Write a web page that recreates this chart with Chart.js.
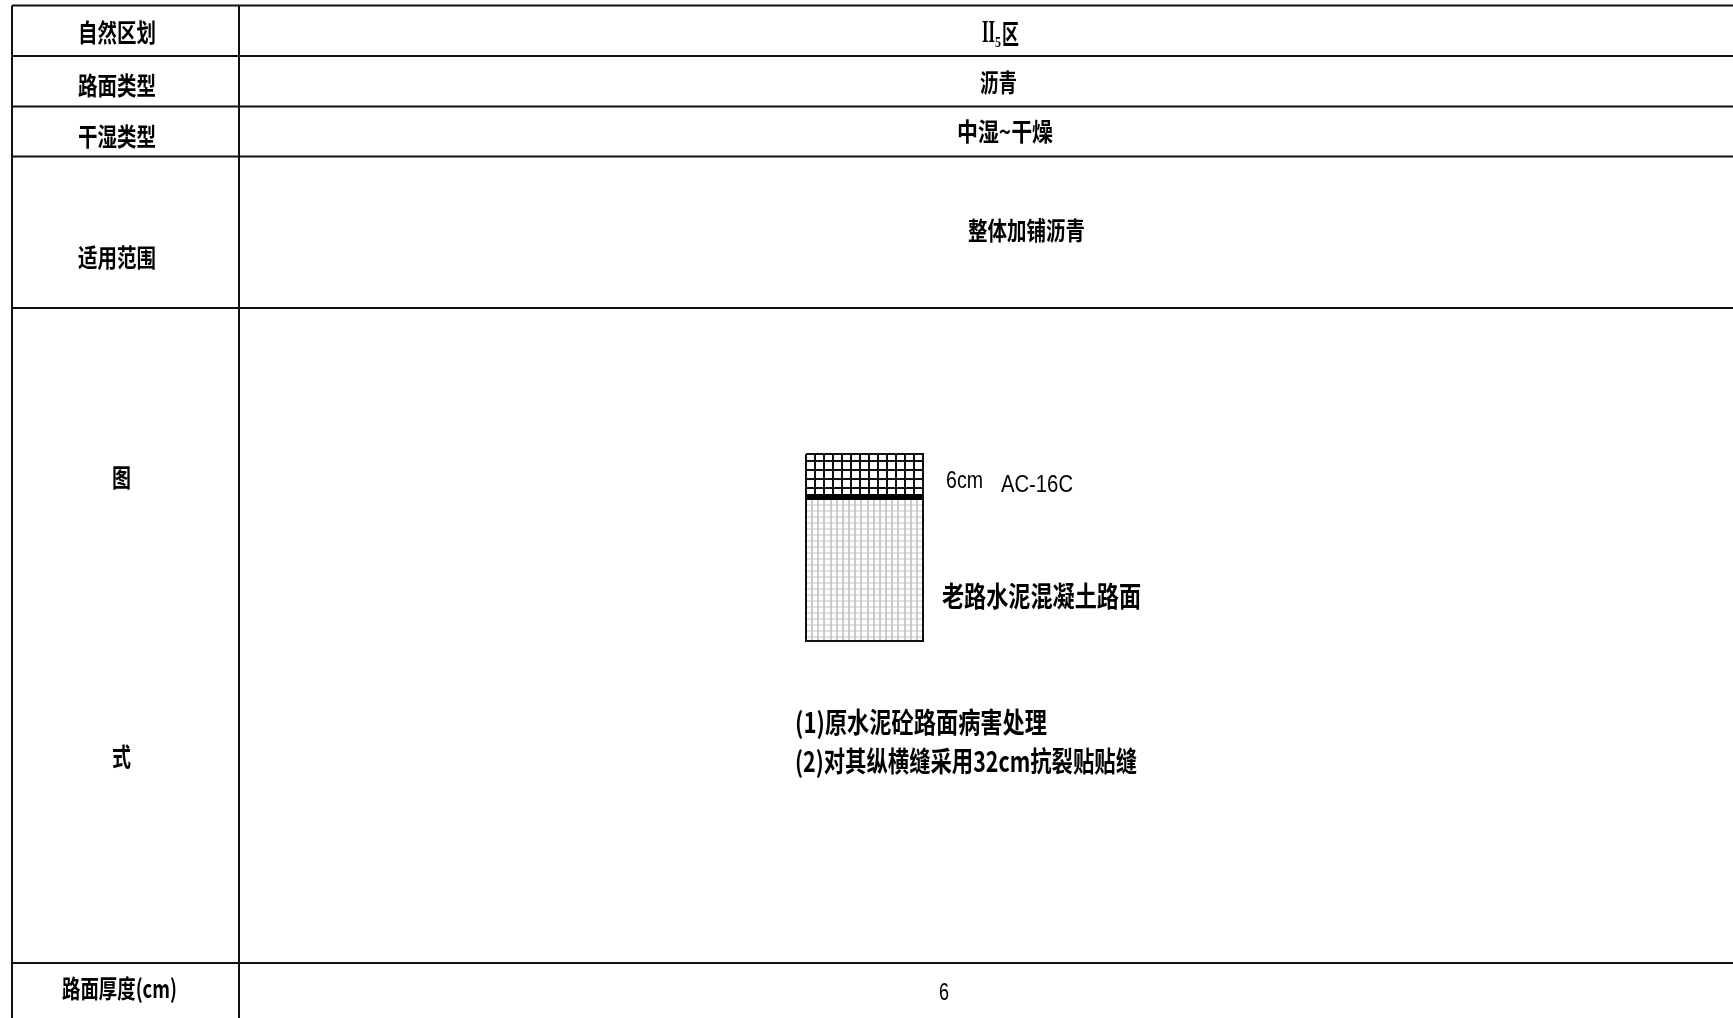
<!DOCTYPE html>
<html>
<head>
<meta charset="utf-8">
<title>路面结构</title>
<script src="https://cdn.jsdelivr.net/npm/chart.js"></script>
<style>
    html, body { margin: 0; padding: 0; background: #fff; overflow: hidden; }
    canvas { display: block; }
</style>
</head>
<body>
<canvas id="sheet" width="1733" height="1018"></canvas>
<script>
// table rules
const rowLines = [5.5, 56, 106.5, 156.5, 308, 963];
const colLines = [12, 239];

// pavement section: outline and the line between the two layers
const sectionX = [806, 923];
const sectionY = [454, 641];
const bondY = 497;

// hatch of the AC-16C layer
const topHatchX = [815, 824, 833, 842, 851, 860, 869, 878, 887, 896, 905, 914];
const topHatchY = [461, 470, 479, 488];

// hatch of the old concrete layer
const baseHatchX = [812, 818, 824, 831, 837, 843, 849, 855, 861, 868, 874, 880, 886, 892, 898, 905, 911, 917];
const baseHatchY = [505, 511, 517, 523, 529, 535, 541, 547, 553, 559, 565, 571, 577, 583, 589, 595, 601, 607, 613, 619, 625, 631, 637];

// texts
const rowTitles = ["自然区划", "路面类型", "干湿类型", "适用范围", "图", "式", "路面厚度(cm)"];
const rowValues = ["沥青", "中湿~干燥", "整体加铺沥青", "6"];
const layerTitles = ["6cm", "AC-16C", "老路水泥混凝土路面"];
const notes = ["(1)原水泥砼路面病害处理", "(2)对其纵横缝采用32cm抗裂贴贴缝"];

const CJK = '"Noto Sans CJK SC"';

// one line dataset for every rule of the sheet
function rule(xs, ys, color, width) {
    return {
        type: "scatter",
        showLine: true,
        data: xs.map((x, i) => ({ x: x, y: ys[i] })),
        borderColor: color,
        borderWidth: width,
        pointRadius: 0,
        fill: false
    };
}

// chart.js paints the first dataset last, so the heavy lines come first
const datasets = [];

rowLines.forEach(y => datasets.push(rule([colLines[0], 1733], [y, y], "#111", 2)));
colLines.forEach(x => datasets.push(rule([x, x], [rowLines[0], 1018], "#111", 2)));

datasets.push(rule(
    [sectionX[0], sectionX[1], sectionX[1], sectionX[0], sectionX[0]],
    [sectionY[0], sectionY[0], sectionY[1], sectionY[1], sectionY[0]],
    "#111", 2
));
datasets.push(rule(sectionX, [bondY, bondY], "#000", 6));

topHatchX.forEach(x => datasets.push(rule([x, x], [sectionY[0], bondY], "#111", 2)));
topHatchY.forEach(y => datasets.push(rule(sectionX, [y, y], "#111", 2)));
baseHatchX.forEach(x => datasets.push(rule([x, x], [bondY, sectionY[1]], "#c4c4c4", 1)));
baseHatchY.forEach(y => datasets.push(rule(sectionX, [y, y], "#c4c4c4", 1)));

// text squeezed to the width it has in the picture (the original is a narrow CAD font)
function drawFitted(ctx, scales, text, left, right, middle, font) {
    const x0 = scales.x.getPixelForValue(left);
    const x1 = scales.x.getPixelForValue(right);
    const y = scales.y.getPixelForValue(middle);
    ctx.save();
    ctx.font = font;
    ctx.fillStyle = "#000";
    ctx.textAlign = "left";
    ctx.textBaseline = "middle";
    const w = ctx.measureText(text).width;
    ctx.translate(x0, y);
    ctx.scale((x1 - x0) / w, 1);
    ctx.fillText(text, 0, 0);
    ctx.restore();
}

const sheetText = {
    id: "sheetText",
    afterDatasetsDraw(chart) {
        const ctx = chart.ctx;
        const s = chart.scales;
        const head = "bold 25px " + CJK;
        const big = "bold 28px " + CJK;

        // left column
        drawFitted(ctx, s, rowTitles[0], 78, 156, 32, head);
        drawFitted(ctx, s, rowTitles[1], 78, 156, 85, head);
        drawFitted(ctx, s, rowTitles[2], 78, 156, 136, head);
        drawFitted(ctx, s, rowTitles[3], 78, 156, 257, head);
        drawFitted(ctx, s, rowTitles[4], 112, 131, 477, head);
        drawFitted(ctx, s, rowTitles[5], 112, 131, 756, head);
        drawFitted(ctx, s, rowTitles[6], 62, 177, 988, head);

        // right column, the first row has a subscript
        drawFitted(ctx, s, "II", 982, 995, 34, 'bold 31px "Liberation Serif"');
        drawFitted(ctx, s, "5", 995, 1001, 43, 'bold 15px "Liberation Serif"');
        drawFitted(ctx, s, "区", 1002, 1019, 34, "bold 27px " + CJK);
        drawFitted(ctx, s, rowValues[0], 980, 1017, 82, head);
        drawFitted(ctx, s, rowValues[1], 957, 1053, 131, head);
        drawFitted(ctx, s, rowValues[2], 968, 1085, 230, head);
        drawFitted(ctx, s, rowValues[3], 939, 949, 993, '24px "Liberation Sans"');

        // section labels and notes
        drawFitted(ctx, s, layerTitles[0], 946, 983, 482, '23px "Liberation Sans"');
        drawFitted(ctx, s, layerTitles[1], 1001, 1073, 485, '24px "Liberation Sans"');
        drawFitted(ctx, s, layerTitles[2], 942, 1141, 596, big);
        drawFitted(ctx, s, notes[0], 795, 1047, 722, big);
        drawFitted(ctx, s, notes[1], 795, 1137, 761, big);
    }
};

new Chart(document.getElementById("sheet"), {
    type: "scatter",
    data: { datasets: datasets },
    plugins: [sheetText],
    options: {
        responsive: false,
        animation: false,
        layout: { padding: 0 },
        plugins: { legend: { display: false }, tooltip: { enabled: false } },
        scales: {
            x: { type: "linear", min: 0, max: 1733, display: false },
            y: { type: "linear", min: 0, max: 1018, reverse: true, display: false }
        }
    }
});
</script>
</body>
</html>
